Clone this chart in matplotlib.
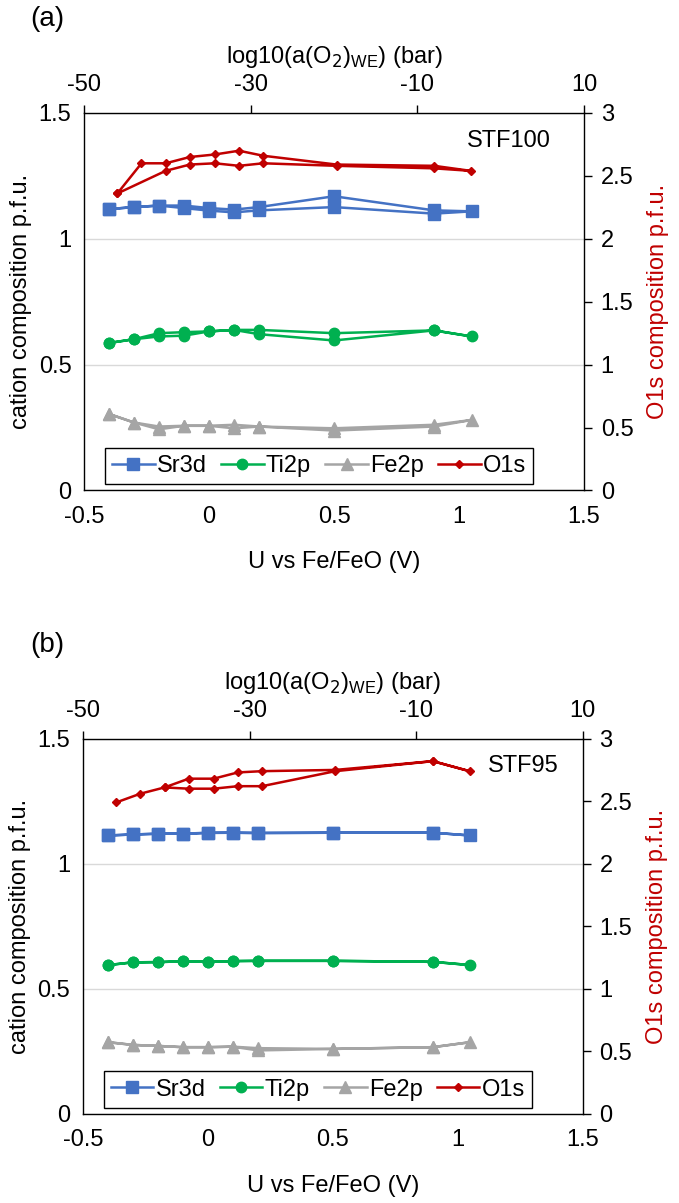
import numpy as np
import matplotlib.pyplot as plt
from matplotlib.lines import Line2D

plt.rcParams['font.family'] = ['Liberation Sans', 'DejaVu Sans']
plt.rcParams['font.size'] = 17
plt.rcParams['axes.unicode_minus'] = False

# potential steps (V vs Fe/FeO): up-sweep then down-sweep
U_up = [-0.4, -0.3, -0.2, -0.1, 0.0, 0.1, 0.2, 0.5, 0.9, 1.05]
U_down = [0.9, 0.5, 0.2, 0.1, 0.0, -0.1, -0.2, -0.3, -0.4]

# matching log10(a(O2)_WE) values (bar) for the O1s series
logO2_up = [-46.0, -43.1, -40.2, -37.3, -34.3, -31.4, -28.5, -19.7, -8.0, -3.6]
logO2_down = [-8.0, -19.7, -28.5, -31.4, -34.3, -37.3, -40.2, -43.1, -46.0]

# ---- panel (a) STF100 ----
sr_a_up = [1.118, 1.126, 1.132, 1.132, 1.122, 1.116, 1.126, 1.169, 1.113, 1.109]
sr_a_down = [1.100, 1.126, 1.113, 1.105, 1.112, 1.122, 1.132, 1.126, 1.118]
ti_a_up = [0.586, 0.601, 0.625, 0.629, 0.632, 0.638, 0.638, 0.625, 0.636, 0.612]
ti_a_down = [0.636, 0.596, 0.621, 0.638, 0.632, 0.615, 0.612, 0.601, 0.586]
fe_a_up = [0.304, 0.270, 0.254, 0.257, 0.257, 0.261, 0.254, 0.247, 0.261, 0.280]
fe_a_down = [0.254, 0.238, 0.254, 0.247, 0.257, 0.257, 0.243, 0.270, 0.304]
o_a_up = [2.36, 2.60, 2.60, 2.65, 2.67, 2.70, 2.66, 2.59, 2.58, 2.54]
o_a_down = [2.56, 2.58, 2.60, 2.58, 2.60, 2.59, 2.54, np.nan, 2.36]  # no -0.3 V point on the way back

# ---- panel (b) STF95 ----
sr_b_up = [1.113, 1.117, 1.120, 1.120, 1.124, 1.124, 1.124, 1.124, 1.124, 1.113]
sr_b_down = [1.124, 1.124, 1.122, 1.124, 1.123, 1.120, 1.120, 1.117, 1.113]
ti_b_up = [0.595, 0.606, 0.607, 0.610, 0.608, 0.611, 0.612, 0.612, 0.608, 0.595]
ti_b_down = [0.608, 0.612, 0.612, 0.611, 0.608, 0.610, 0.607, 0.606, 0.595]
fe_b_up = [0.287, 0.276, 0.272, 0.267, 0.267, 0.269, 0.263, 0.260, 0.267, 0.287]
fe_b_down = [0.267, 0.260, 0.254, 0.269, 0.267, 0.267, 0.272, 0.276, 0.287]
o_b_up = [2.49, 2.56, 2.61, 2.60, 2.60, 2.62, 2.62, 2.74, 2.82, 2.74]
o_b_down = [2.82, 2.75, 2.74, 2.73, 2.68, 2.68, 2.61, np.nan, np.nan]

labels = ['Sr3d', 'Ti2p', 'Fe2p', 'O1s']
colors = ['#4472C4', '#00B050', '#A5A5A5', '#C00000']
markers = ['s', 'o', '^', 'D']
msizes = [8.5, 7.5, 8.5, 4.5]


def loop(x_up, x_down, y_up, y_down):
    # join up and down sweeps into one path, dropping missing points
    x = np.array(list(x_up) + list(x_down), dtype=float)
    y = np.array(list(y_up) + list(y_down), dtype=float)
    ok = ~np.isnan(y)
    return x[ok], y[ok]


def draw_panel(rect, tag, name, name_xy, cations, oxy_up, oxy_down):
    ax = fig.add_axes(rect)
    ax2 = fig.add_axes(rect, frameon=False)

    # left / bottom: cation composition vs potential
    for (y_up, y_down), c, m, ms in zip(cations, colors[:3], markers[:3], msizes[:3]):
        x, y = loop(U_up, U_down, y_up, y_down)
        ax.plot(x, y, color=c, marker=m, ms=ms, lw=1.8)
    ax.set_xlim(-0.5, 1.5)
    ax.set_ylim(0, 1.5)
    ax.set_xticks([-0.5, 0, 0.5, 1, 1.5])
    ax.set_xticklabels(['-0.5', '0', '0.5', '1', '1.5'])
    ax.set_yticks([0, 0.5, 1, 1.5])
    ax.set_yticklabels(['0', '0.5', '1', '1.5'])
    ax.tick_params(axis='x', length=0, pad=11)
    ax.tick_params(axis='y', length=0, pad=9)
    ax.yaxis.grid(True, color='#D9D9D9', lw=1)
    ax.set_axisbelow(True)
    ax.set_xlabel('U vs Fe/FeO (V)', labelpad=17)
    ax.set_ylabel('cation composition p.f.u.', labelpad=5)
    for s in ax.spines.values():
        s.set_linewidth(1)
        s.set_color('#000000')

    # top / right: O1s vs oxygen activity
    x, y = loop(logO2_up, logO2_down, oxy_up, oxy_down)
    ax2.plot(x, y, color=colors[3], marker=markers[3], ms=msizes[3], lw=1.8)
    ax2.set_xlim(-50, 10)
    ax2.set_ylim(0, 3)
    ax2.set_xticks([-50, -30, -10, 10])
    ax2.set_yticks([0, 0.5, 1, 1.5, 2, 2.5, 3])
    ax2.set_yticklabels(['0', '0.5', '1', '1.5', '2', '2.5', '3'])
    ax2.xaxis.tick_top()
    ax2.xaxis.set_label_position('top')
    ax2.yaxis.tick_right()
    ax2.yaxis.set_label_position('right')
    ax2.tick_params(axis='x', direction='out', length=6, width=1, pad=6)
    ax2.tick_params(axis='y', direction='out', length=6, width=1, pad=6)
    ax2.set_xlabel('log10(a(O$_2$)$_{\\mathregular{WE}}$) (bar)', labelpad=8)
    ax2.set_ylabel('O1s composition p.f.u.', color=colors[3], labelpad=10)
    ax2.patch.set_visible(False)

    ax2.text(name_xy[0], name_xy[1], name, transform=ax.transData,
             ha='center', va='center')
    fig.text(0.045, rect[1] + rect[3] + 0.078, tag, fontsize=20, va='center')

    handles = [Line2D([], [], color=c, marker=m, ms=ms, lw=1.8)
               for c, m, ms in zip(colors, markers, msizes)]
    leg = ax2.legend(handles, labels, ncol=4, loc='lower left',
                     bbox_to_anchor=(0.042, 0.017), borderaxespad=0,
                     fancybox=False, edgecolor='#000000', framealpha=1,
                     handlelength=1.8, handletextpad=0.1, columnspacing=0.6,
                     borderpad=0.3, fontsize=17)
    leg.get_frame().set_linewidth(1)


fig = plt.figure(figsize=(6.79, 12.03), dpi=100)

draw_panel([0.1237, 0.5923, 0.7364, 0.3138], '(a)', 'STF100', (1.2, 1.39),
           [(sr_a_up, sr_a_down), (ti_a_up, ti_a_down), (fe_a_up, fe_a_down)],
           o_a_up, o_a_down)
draw_panel([0.1220, 0.0740, 0.7364, 0.3120], '(b)', 'STF95', (1.26, 1.39),
           [(sr_b_up, sr_b_down), (ti_b_up, ti_b_down), (fe_b_up, fe_b_down)],
           o_b_up, o_b_down)

fig.savefig('out.png', dpi=100)
